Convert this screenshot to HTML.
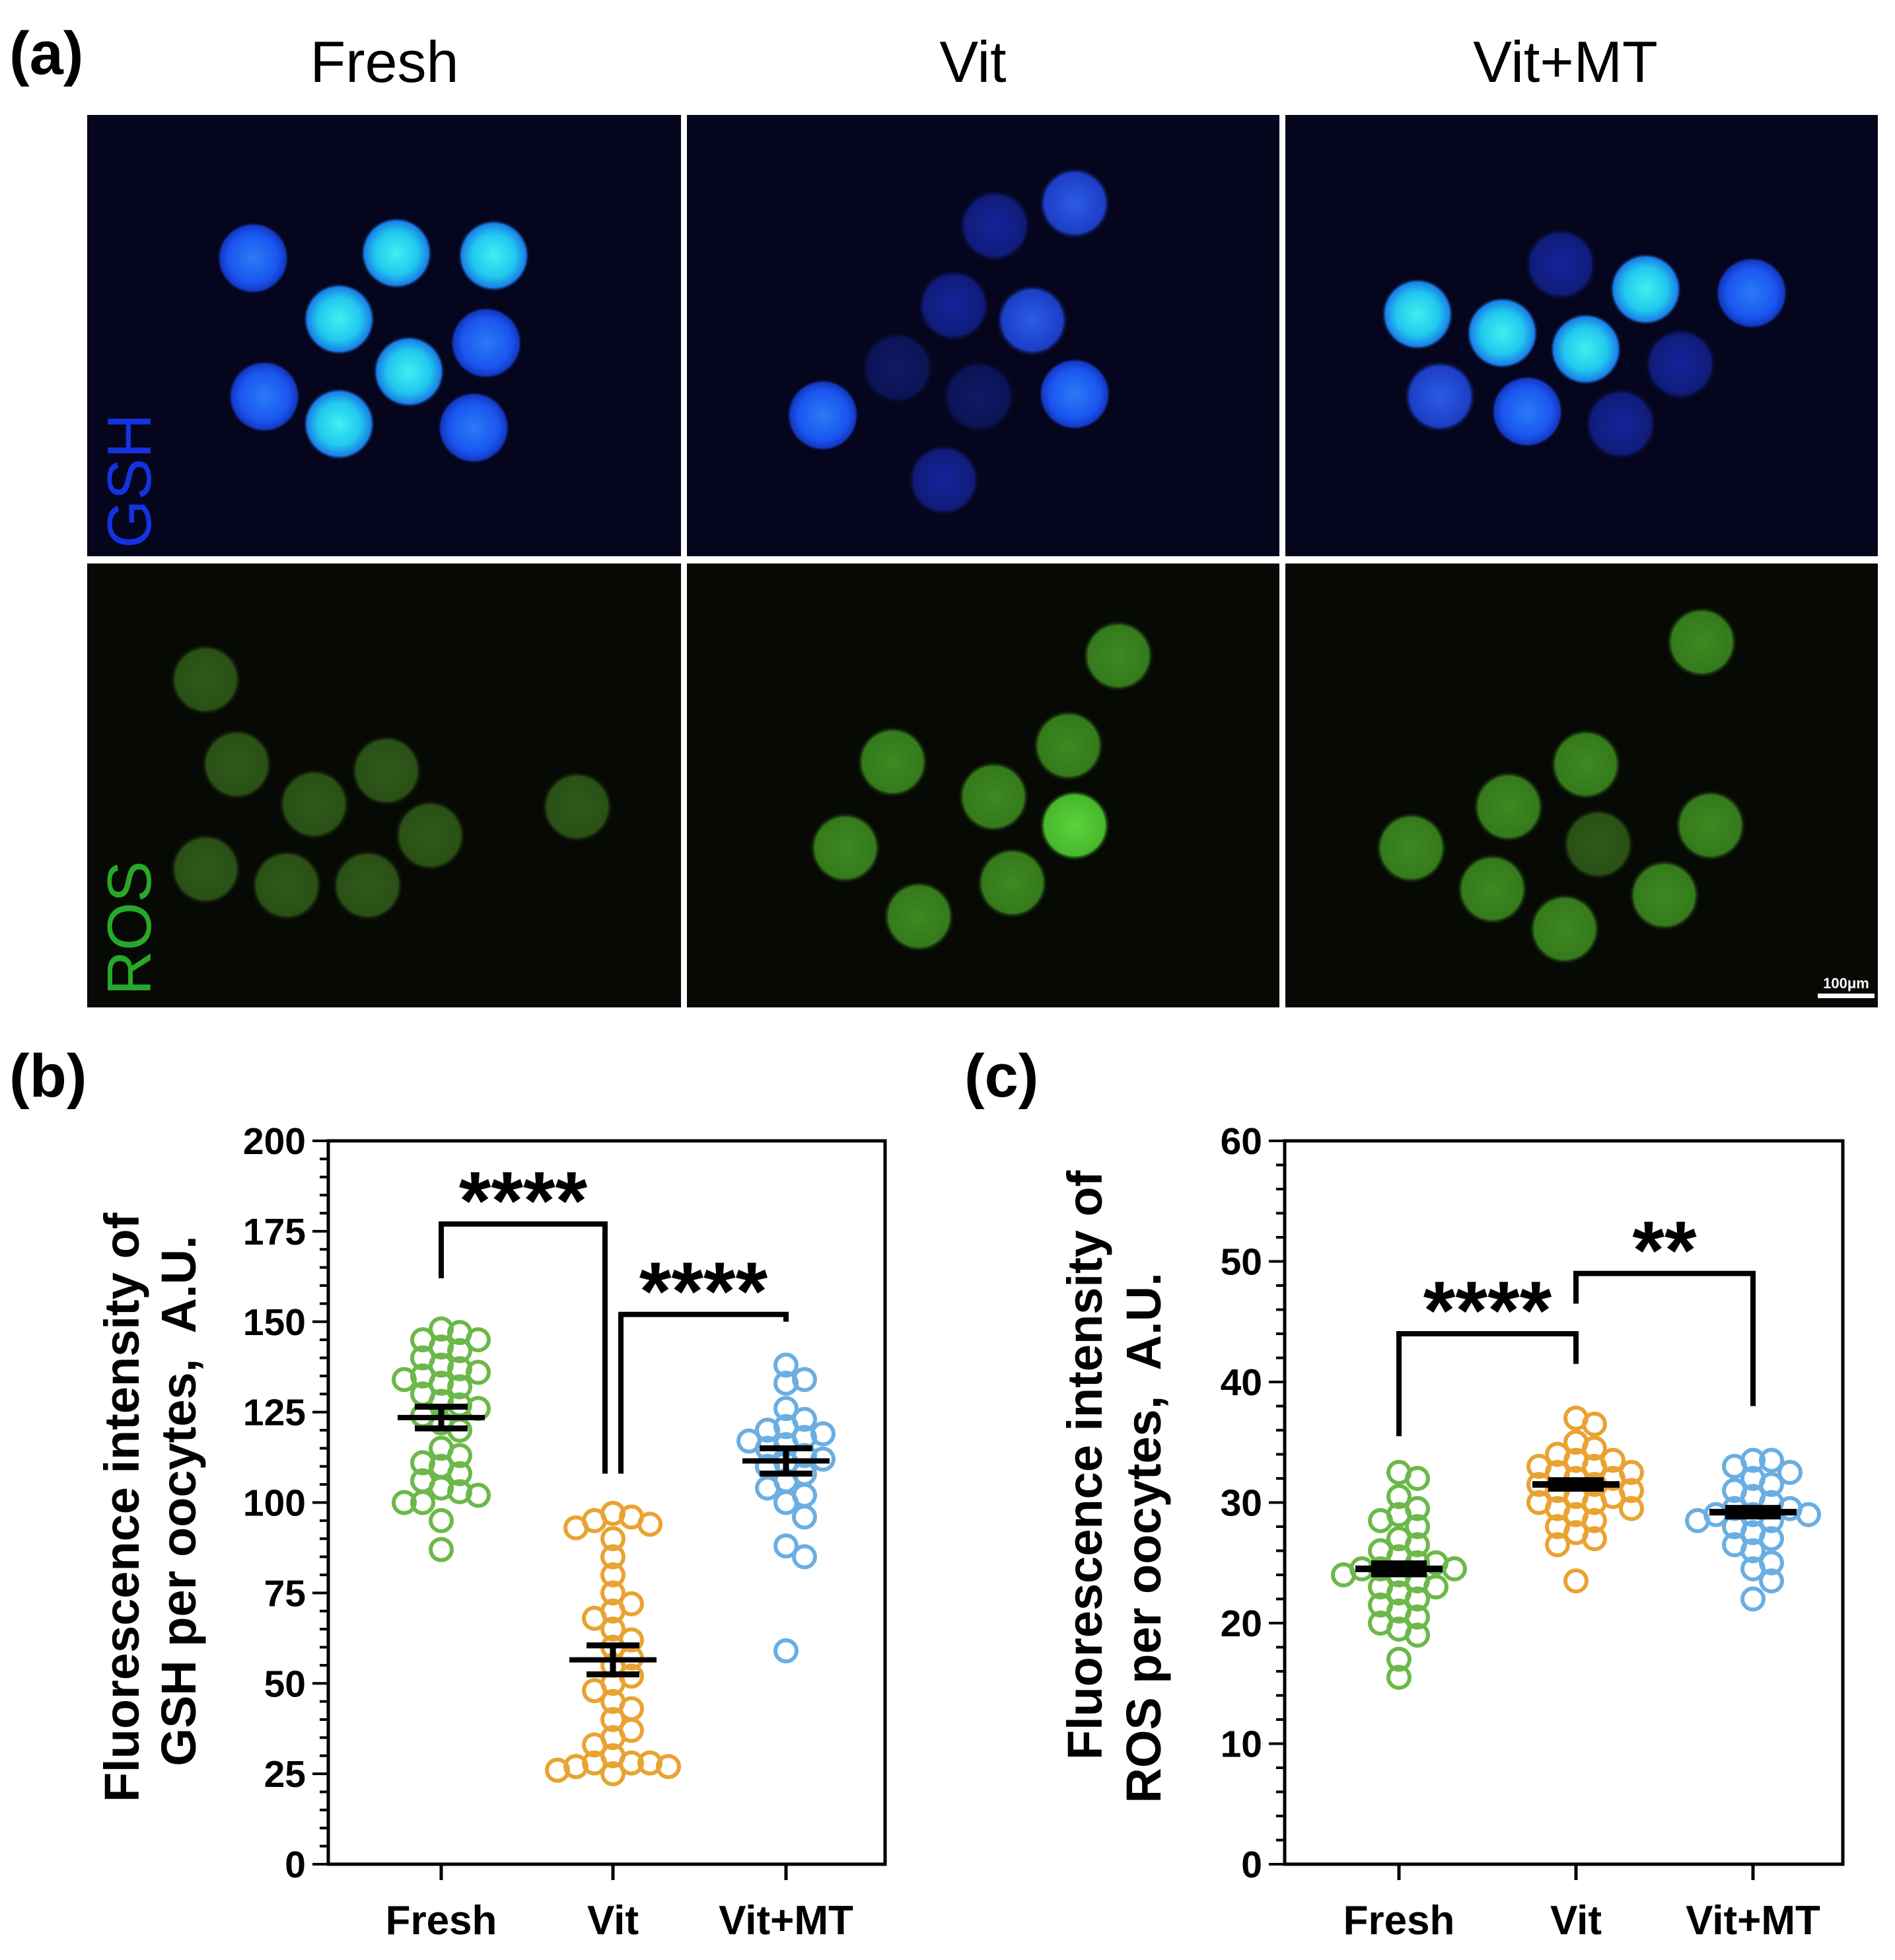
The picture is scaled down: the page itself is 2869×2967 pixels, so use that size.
<!DOCTYPE html>
<html><head><meta charset="utf-8"><style>
html,body{margin:0;padding:0;background:#fff}
svg{display:block}
text{font-family:"Liberation Sans",sans-serif;white-space:pre}
</style></head><body>
<svg id="fig" width="2869" height="2967" viewBox="0 0 2869 2967" xmlns="http://www.w3.org/2000/svg">
<defs>
<radialGradient id="gCyan"><stop offset="0" stop-color="#3ff0f0"/><stop offset="0.6" stop-color="#22c8ee"/><stop offset="0.9" stop-color="#1a80e8"/><stop offset="1" stop-color="#102060" stop-opacity="0"/></radialGradient>
<radialGradient id="gBlue"><stop offset="0" stop-color="#2a7cf5"/><stop offset="0.7" stop-color="#1a55f0"/><stop offset="0.92" stop-color="#1438c0"/><stop offset="1" stop-color="#0a1040" stop-opacity="0"/></radialGradient>
<radialGradient id="gBlueMid"><stop offset="0" stop-color="#2b5ce8"/><stop offset="0.85" stop-color="#1c3ec4"/><stop offset="1" stop-color="#0a1040" stop-opacity="0"/></radialGradient>
<radialGradient id="gDim"><stop offset="0" stop-color="#14249a"/><stop offset="0.85" stop-color="#101c7a"/><stop offset="1" stop-color="#070a30" stop-opacity="0"/></radialGradient>
<radialGradient id="gVDim"><stop offset="0" stop-color="#0f1a66"/><stop offset="0.85" stop-color="#0c1456"/><stop offset="1" stop-color="#070a30" stop-opacity="0"/></radialGradient>
<radialGradient id="rDim"><stop offset="0" stop-color="#2f5a1a"/><stop offset="0.85" stop-color="#2a5016"/><stop offset="1" stop-color="#0a0e05" stop-opacity="0"/></radialGradient>
<radialGradient id="rMid"><stop offset="0" stop-color="#3d8a22"/><stop offset="0.85" stop-color="#357a1c"/><stop offset="1" stop-color="#0a0e05" stop-opacity="0"/></radialGradient>
<radialGradient id="rBright"><stop offset="0" stop-color="#5ad43a"/><stop offset="0.85" stop-color="#48b82c"/><stop offset="1" stop-color="#0a0e05" stop-opacity="0"/></radialGradient>
</defs>

<text x="14" y="112" font-size="92" font-weight="bold">(a)</text>
<text x="582" y="124" font-size="88" text-anchor="middle">Fresh</text>
<text x="1473" y="124" font-size="88" text-anchor="middle">Vit</text>
<text x="2370" y="124" font-size="88" text-anchor="middle">Vit+MT</text>
<g id="images"></g>
<text transform="translate(228,728) rotate(-90)" font-size="94" fill="#1433e0" text-anchor="middle">GSH</text>
<text transform="translate(228,1405) rotate(-90)" font-size="94" fill="#28a82a" text-anchor="middle">ROS</text>
<text x="2795" y="1496" font-size="22" font-weight="bold" fill="#fff" text-anchor="middle">100μm</text>
<rect x="2752" y="1504" width="86" height="7" fill="#fff"/>

<text x="14" y="1660" font-size="92" font-weight="bold">(b)</text>
<text x="1460" y="1660" font-size="92" font-weight="bold">(c)</text>
<g id="chartB"></g>
<g id="chartC"></g>
</svg>
<script>
const NS='http://www.w3.org/2000/svg';
function mk(parent,tag,attrs,txt){const e=document.createElementNS(NS,tag);for(const k in attrs)e.setAttribute(k,attrs[k]);if(txt!==undefined)e.textContent=txt;parent.appendChild(e);return e;}

const F=1.8875;
const img=document.getElementById('images');
const panels=[[132,174,1031,842,'#05061e'],[1040,174,1937,842,'#05061e'],[1946,174,2843,842,'#05061e'],
[132,853,1031,1525,'#070a04'],[1040,853,1937,1525,'#070a04'],[1946,853,2843,1525,'#070a04']];
panels.forEach((p,i)=>{const r=mk(img,'rect',{x:p[0],y:p[1],width:p[2]-p[0],height:p[3]-p[1],fill:p[4]});

});
const cells=[
[203,207,'gBlue'],[318,203,'gCyan'],[396,205,'gCyan'],[272,256,'gCyan'],[390,275,'gBlue'],[212,318,'gBlue'],[328,298,'gCyan'],[272,340,'gCyan'],[380,343,'gBlue'],
[862,163,'gBlueMid'],[798,181,'gDim'],[765,245,'gDim'],[828,257,'gBlueMid'],[720,295,'gVDim'],[785,318,'gVDim'],[862,316,'gBlue'],[660,333,'gBlue'],[757,385,'gDim'],
[1252,212,'gDim'],[1137,252,'gCyan'],[1320,232,'gCyan'],[1405,235,'gBlue'],[1205,267,'gCyan'],[1272,280,'gCyan'],[1348,292,'gDim'],[1155,318,'gBlueMid'],[1225,330,'gBlue'],[1300,340,'gDim'],
[165,545,'rDim'],[190,613,'rDim'],[310,618,'rDim'],[252,645,'rDim'],[345,670,'rDim'],[463,647,'rDim'],[165,697,'rDim'],[230,710,'rDim'],[295,710,'rDim'],
[897,526,'rMid'],[716,611,'rMid'],[857,598,'rMid'],[797,639,'rMid'],[862,662,'rBright'],[678,680,'rMid'],[812,708,'rMid'],[737,735,'rMid'],
[1365,515,'rMid'],[1272,613,'rMid'],[1210,647,'rMid'],[1282,677,'rDim'],[1372,662,'rMid'],[1132,680,'rMid'],[1197,713,'rMid'],[1335,718,'rMid'],[1255,745,'rMid']];
cells.forEach(c=>{const e=mk(img,'circle',{cx:c[0]*F,cy:c[1]*F,r:54,fill:'url(#'+c[2]+')'});

});

const categories=['Fresh','Vit','Vit+MT'];
const gshFresh=[148,147,145,143,145,142,140,138,137,135,136,134,133,132,130,128,127,126,124,122,120,115,113,111,110,108,106,104,103,102,100,100,95,87];
const gshVit=[97,96,95,94,93,90,85,80,75,72,70,68,65,62,60,57,55,52,50,48,45,43,40,37,35,33,30,28,27,28,26,27,25,28];
const gshMT=[138,134,133,126,123,121,120,119,118,117,116,115,113,112,111,110,108,106,104,102,100,96,88,85,59];
const gshMean=[123.5,56.5,111.5];
const gshSem=[3,4,3.5];
const gshTicks=[0,25,50,75,100,125,150,175,200];
const rosFresh=[32.5,32,30.5,29.5,29,28.5,28,27,26.5,26,25.5,25,25,24.5,24.5,24.5,24,24,23.5,23,23,22.5,22,21.5,21,20.5,20,19.5,19,17,15.5];
const rosVit=[37,36.5,35,34.5,34,33.5,33.5,33,33,32.5,32.5,32,32,31.5,31.5,31,31,30.5,30.5,30,30,29.5,29.5,29,28.5,28,27.5,27,26.5,23.5];
const rosMT=[33.5,33.5,33,32.5,32,31.5,31,30.5,30,29.5,29.5,29,29,29,28.5,28.5,28,27.5,27,26.5,26,25,24.5,23.5,22];
const rosMean=[24.5,31.5,29.2];
const rosSem=[0.7,0.6,0.6];
const rosTicks=[0,10,20,30,40,50,60];
const colors=['#6cb84a','#e9a332','#6aaee2'];

function drawChart(gid,cfg){
  const g=document.getElementById(gid);
  const {L,R,T,B,ymax,minor,catX,series,mean,sem,ticks,titles,titleX,titleY,brackets,thickSem}=cfg;
  const y=v=>B-(v/ymax)*(B-T);
  const x=i=>catX[i];
  const fr=mk(g,'rect',{x:L,y:T,width:R-L,height:B-T,fill:'none',stroke:'#000','stroke-width':5});
  
  
  for(let v=0;v<=ymax+1e-9;v+=minor){const l=mk(g,'line',{x1:L-(ticks.includes(Math.round(v*100)/100)?24:13),x2:L,y1:y(v),y2:y(v),stroke:'#000','stroke-width':4});
    
    }
  ticks.forEach(t=>{const e=mk(g,'text',{x:L-34,y:y(t)+20,'font-size':57,'font-weight':'bold','text-anchor':'end'},String(t));
    
    });
  categories.forEach((c,i)=>{const l=mk(g,'line',{x1:x(i),x2:x(i),y1:B,y2:B+24,stroke:'#000','stroke-width':5});
    
    
    const e=mk(g,'text',{x:x(i),y:B+106,'font-size':62,'font-weight':'bold','text-anchor':'middle'},c);
    
    });
  titles.forEach((t,k)=>{const e=mk(g,'text',{transform:`translate(${titleX[k]},${titleY[k]}) rotate(-90)`,'font-size':74,'font-weight':'bold','text-anchor':'middle'},t);
    
    });
  const r=16,step=14;
  series.forEach((vals,i)=>{
    const placed=[];
    const sorted=vals.slice().sort((a,b)=>b-a);
    sorted.forEach(v=>{const py=y(v);let off=0;
      for(let k=0;k<40;k++){const cand=(k%2?1:-1)*Math.ceil(k/2)*step;
        if(placed.every(p=>Math.hypot(p[0]-cand,p[1]-py)>=2*r*0.85)){off=cand;break;}}
      placed.push([off,py]);
      const c=mk(g,'circle',{cx:x(i)+off,cy:py,r:r,fill:'none',stroke:colors[i],'stroke-width':6});
      
      
    });
  });
  categories.forEach((c,i)=>{
    const m=mk(g,'line',{x1:x(i)-66,x2:x(i)+66,y1:y(mean[i]),y2:y(mean[i]),stroke:'#000','stroke-width':thickSem?10:8});
    
    
    if(thickSem){
      const s=mk(g,'rect',{x:x(i)-42,y:y(mean[i]+sem[i]),width:84,height:y(mean[i]-sem[i])-y(mean[i]+sem[i]),fill:'#000'});
      
      
    } else {
      const p=`M${x(i)-40},${y(mean[i]+sem[i])}H${x(i)+40}M${x(i)-40},${y(mean[i]-sem[i])}H${x(i)+40}M${x(i)},${y(mean[i]+sem[i])}V${y(mean[i]-sem[i])}`;
      const s=mk(g,'path',{d:p,stroke:'#000','stroke-width':9,fill:'none'});
      
      
    }
  });
  brackets.forEach(b=>{
    const x1=x(b.a)+(b.da||0),x2=x(b.b)+(b.db||0);
    const p=mk(g,'path',{d:`M${x1},${y(b.ya)}V${y(b.top)}H${x2}V${y(b.yb)}`,stroke:'#000','stroke-width':8,fill:'none'});
    
    
    const t=mk(g,'text',{x:(x1+x2)/2,y:y(b.top)+8,'font-size':125,'font-weight':'bold','text-anchor':'middle'},b.label);
    
    
  });
}

drawChart('chartB',{L:497,R:1340,T:1727,B:2822,ymax:200,minor:5,catX:[668,928,1190],
  series:[gshFresh,gshVit,gshMT],mean:gshMean,sem:gshSem,ticks:gshTicks,thickSem:false,
  titles:['Fluorescence intensity of','GSH per oocytes,  A.U.'],titleX:[210,296],titleY:[2282,2272],
  brackets:[{a:0,b:1,ya:162,top:177,yb:108,db:-12,label:'****'},{a:1,b:2,ya:108,top:152,yb:150,da:12,label:'****'}]});
drawChart('chartC',{L:1945,R:2790,T:1727,B:2822,ymax:60,minor:2,catX:[2118,2386,2654],
  series:[rosFresh,rosVit,rosMT],mean:rosMean,sem:rosSem,ticks:rosTicks,thickSem:true,
  titles:['Fluorescence intensity of','ROS per oocytes,  A.U.'],titleX:[1668,1757],titleY:[2218,2328],
  brackets:[{a:0,b:1,ya:35.5,top:44,yb:41.5,label:'****'},{a:1,b:2,ya:46.5,top:49,yb:38,label:'**'}]});
</script>
</body></html>
